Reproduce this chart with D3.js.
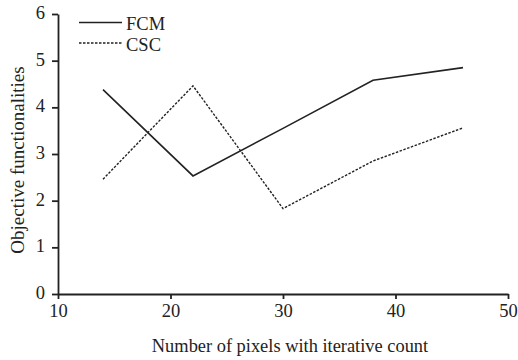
<!DOCTYPE html>
<html>
<head>
<meta charset="utf-8">
<script src="https://cdn.jsdelivr.net/npm/d3@7"></script>
<style>
  body { margin: 0; background: #fff; }
  svg text { font-family: "Liberation Serif", "Times New Roman", serif; fill: #222; }
  .axis path, .axis line { stroke: #222; stroke-width: 1.8; }
</style>
</head>
<body>
<div id="chart"></div>
<script>
// pixel counts on the x axis
var pixels = [14, 22, 30, 38, 46];
var fcm = [4.38, 2.53, 3.55, 4.58, 4.85];
var csc = [2.46, 4.46, 1.83, 2.85, 3.56];
var xTicks = [10, 20, 30, 40, 50];
var yTicks = [0, 1, 2, 3, 4, 5, 6];

var width = 518, height = 360;
var margin = {left: 58, right: 10, top: 14, bottom: 66};

var svg = d3.select('#chart').append('svg')
  .attr('width', width)
  .attr('height', height);

var x = d3.scaleLinear().domain([10, 50]).range([margin.left, width - margin.right]);
var y = d3.scaleLinear().domain([0, 6]).range([height - margin.bottom, margin.top]);

var xAxis = svg.append('g')
  .attr('class', 'axis')
  .attr('transform', 'translate(0,' + y(0) + ')')
  .call(d3.axisBottom(x).tickValues(xTicks).tickFormat(d3.format('d')).tickSize(5).tickSizeOuter(0));
xAxis.selectAll('text').attr('font-size', 18.5).attr('y', 9).attr('dy', '0.75em');

var yAxis = svg.append('g')
  .attr('class', 'axis')
  .attr('transform', 'translate(' + x(10) + ',0)')
  .call(d3.axisLeft(y).tickValues(yTicks).tickFormat(d3.format('d')).tickSize(6).tickSizeOuter(0));
yAxis.selectAll('text').attr('font-size', 18.5).attr('x', -13).attr('dy', '0.25em');

var line = d3.line()
  .x(function(d, i) { return x(pixels[i]); })
  .y(function(d) { return y(d); });

svg.append('path')
  .datum(fcm)
  .attr('d', line)
  .attr('fill', 'none')
  .attr('stroke', '#222')
  .attr('stroke-width', 1.6);

svg.append('path')
  .datum(csc)
  .attr('d', line)
  .attr('fill', 'none')
  .attr('stroke', '#222')
  .attr('stroke-width', 1.4)
  .attr('stroke-dasharray', '2.5,1.5');

// legend
var legend = [
  {name: 'FCM', dash: null, y: 22.5},
  {name: 'CSC', dash: '2.5,1.5', y: 43}
];
legend.forEach(function(l) {
  svg.append('line')
    .attr('x1', 79).attr('x2', 122)
    .attr('y1', l.y).attr('y2', l.y)
    .attr('stroke', '#222')
    .attr('stroke-width', l.dash ? 1.3 : 1.6)
    .attr('stroke-dasharray', l.dash);
  svg.append('text')
    .attr('x', 126)
    .attr('y', l.y + 7.5)
    .attr('font-size', 18.5)
    .text(l.name);
});

svg.append('text')
  .attr('x', 290)
  .attr('y', 352)
  .attr('text-anchor', 'middle')
  .attr('font-size', 18.4)
  .text('Number of pixels with iterative count');

svg.append('text')
  .attr('transform', 'translate(24,160) rotate(-90)')
  .attr('text-anchor', 'middle')
  .attr('font-size', 19)
  .text('Objective functionalities');
</script>
</body>
</html>
